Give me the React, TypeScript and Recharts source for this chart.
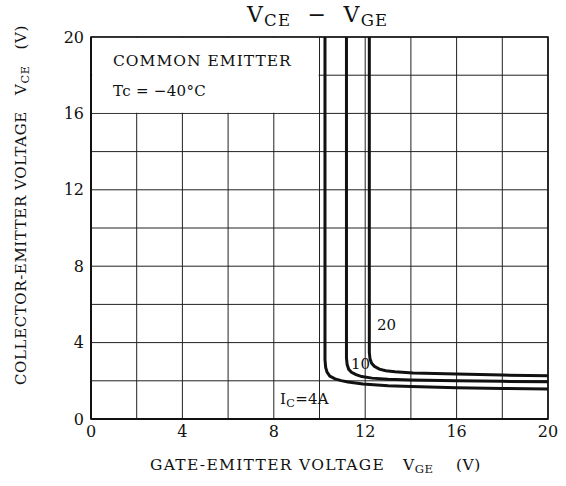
import { LineChart, Line, XAxis, YAxis, CartesianGrid, ReferenceArea } from "recharts";

// VGE (x) / VCE (y) points, one list per collector current
const ic4A = [
  { x: 10.24, y: 20 },
  { x: 10.24, y: 3.1 },
  { x: 10.27, y: 2.7 },
  { x: 10.33, y: 2.45 },
  { x: 10.45, y: 2.25 },
  { x: 10.68, y: 2.1 },
  { x: 10.95, y: 2.01 },
  { x: 11.25, y: 1.94 },
  { x: 11.9, y: 1.83 },
  { x: 13, y: 1.74 },
  { x: 14, y: 1.7 },
  { x: 16, y: 1.64 },
  { x: 18, y: 1.6 },
  { x: 20, y: 1.57 },
];

const ic10A = [
  { x: 11.18, y: 20 },
  { x: 11.18, y: 3.2 },
  { x: 11.21, y: 2.85 },
  { x: 11.28, y: 2.6 },
  { x: 11.4, y: 2.45 },
  { x: 11.6, y: 2.32 },
  { x: 11.85, y: 2.22 },
  { x: 12.3, y: 2.14 },
  { x: 13, y: 2.08 },
  { x: 14, y: 2.04 },
  { x: 16, y: 2.0 },
  { x: 18, y: 1.97 },
  { x: 20, y: 1.95 },
];

const ic20A = [
  { x: 12.18, y: 20 },
  { x: 12.18, y: 3.5 },
  { x: 12.21, y: 3.15 },
  { x: 12.28, y: 2.92 },
  { x: 12.4, y: 2.76 },
  { x: 12.62, y: 2.61 },
  { x: 12.9, y: 2.53 },
  { x: 13.3, y: 2.47 },
  { x: 14.1, y: 2.41 },
  { x: 16, y: 2.35 },
  { x: 18, y: 2.3 },
  { x: 20, y: 2.27 },
];

const gridTicks = [0, 2, 4, 6, 8, 10, 12, 14, 16, 18, 20];

const FONT = "'DejaVu Serif', serif";
const INK = "#111";

const showEveryFourth = (v: number) => (v % 4 === 0 ? String(v) : "");

const abs = (left: number, top: number, size: number, extra: any = {}) => ({
  position: "absolute" as const,
  left,
  top,
  fontSize: size,
  fontFamily: FONT,
  color: INK,
  whiteSpace: "nowrap" as const,
  lineHeight: 1,
  ...extra,
});

const Sub = ({ children }: { children: any }) => (
  <span style={{ fontSize: "0.75em", position: "relative", top: "0.25em" }}>{children}</span>
);

export default function App() {
  return (
    <div style={{ position: "absolute", left: 0, top: 0, width: 566, height: 486, background: "#fff" }}>
      <LineChart
        width={566}
        height={486}
        margin={{ top: 37, right: 18, bottom: 37, left: 31 }}
      >
        <CartesianGrid stroke="#222" strokeWidth={1} />
        <XAxis
          type="number"
          dataKey="x"
          domain={[0, 20]}
          ticks={gridTicks}
          tickFormatter={showEveryFourth}
          height={30}
          tickLine={false}
          tickSize={0}
          tickMargin={7}
          axisLine={{ stroke: INK, strokeWidth: 2 }}
          tick={{ fill: INK, fontSize: 16, fontFamily: FONT }}
          allowDataOverflow
        />
        <YAxis
          type="number"
          dataKey="y"
          domain={[0, 20]}
          ticks={gridTicks}
          tickFormatter={showEveryFourth}
          width={60}
          tickLine={false}
          tickSize={0}
          tickMargin={7}
          axisLine={{ stroke: INK, strokeWidth: 2 }}
          tick={{ fill: INK, fontSize: 16, fontFamily: FONT }}
          allowDataOverflow
        />
        {/* blank panel behind the COMMON EMITTER note */}
        <ReferenceArea x1={0.05} x2={9.96} y1={16.04} y2={19.96} fill="#fff" fillOpacity={1} stroke="none" />
        <ReferenceArea x1={0} x2={20} y1={0} y2={20} fill="none" stroke={INK} strokeWidth={1.6} />
        <Line data={ic4A} dataKey="y" type="linear" stroke={INK} strokeWidth={3} dot={false} isAnimationActive={false} />
        <Line data={ic10A} dataKey="y" type="linear" stroke={INK} strokeWidth={3} dot={false} isAnimationActive={false} />
        <Line data={ic20A} dataKey="y" type="linear" stroke={INK} strokeWidth={3} dot={false} isAnimationActive={false} />
      </LineChart>

      {/* title */}
      <div style={abs(247, 4, 22, { letterSpacing: 1.2 })}>
        V<Sub>CE</Sub> &nbsp;− &nbsp;V<Sub>GE</Sub>
      </div>

      {/* notes inside the plot */}
      <div style={abs(113, 54, 15.5, { letterSpacing: 1 })}>COMMON EMITTER</div>
      <div style={abs(113, 84, 15, { letterSpacing: 0.3 })}>Tc = −40°C</div>
      <div style={abs(377, 318, 15, {})}>20</div>
      <div style={abs(351, 357, 15, {})}>10</div>
      <div style={abs(280, 392, 15, { letterSpacing: 0.3 })}>
        I<Sub>C</Sub>=4A
      </div>

      {/* axis titles */}
      <div style={abs(150, 458, 15.5, { letterSpacing: 1.3 })}>GATE-EMITTER VOLTAGE</div>
      <div style={abs(403, 458, 15.5, { letterSpacing: 0.5 })}>
        V<Sub>GE</Sub>
      </div>
      <div style={abs(456, 458, 15.5, { letterSpacing: 0.5 })}>(V)</div>
      <div
        style={abs(21, 205, 15, {
          letterSpacing: 0.6,
          transform: "translate(-50%, -50%) rotate(-90deg)",
        })}
      >
        COLLECTOR-EMITTER VOLTAGE &nbsp;&nbsp;V<Sub>CE</Sub> &nbsp;&nbsp;(V)
      </div>
    </div>
  );
}
